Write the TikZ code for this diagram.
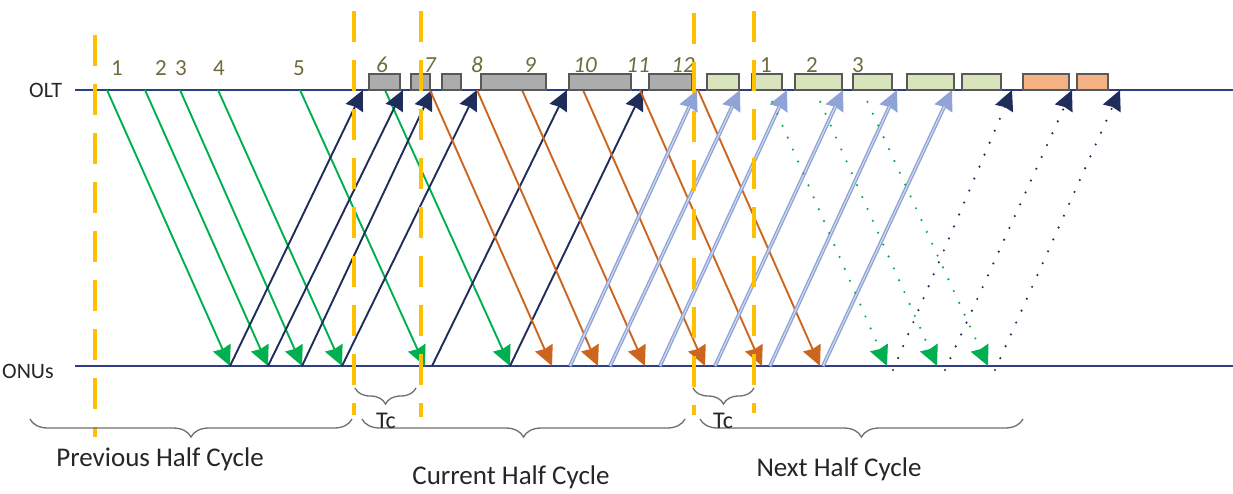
\documentclass[tikz,border=0pt]{standalone}
\usepackage{fontspec}
\setmainfont{Carlito}
\usetikzlibrary{arrows.meta,decorations.pathreplacing}
\definecolor{linenavy}{RGB}{47,62,128}
\definecolor{navy}{RGB}{31,45,90}
\definecolor{grn}{RGB}{0,176,80}
\definecolor{org}{RGB}{204,102,30}
\definecolor{lblue}{RGB}{143,163,214}
\definecolor{gold}{RGB}{255,192,0}
\definecolor{olive}{RGB}{110,108,60}
\definecolor{grayfill}{RGB}{172,172,172}
\definecolor{greenfill}{RGB}{216,228,188}
\definecolor{orangefill}{RGB}{244,177,131}
\definecolor{boxborder}{RGB}{89,89,89}
\definecolor{bracegray}{RGB}{110,110,110}
\begin{document}
\begin{tikzpicture}[x=1pt,y=-1pt,
 axisline/.style={draw=linenavy,line width=2pt},
 tipS/.style={-{Stealth[inset=1.5pt,length=20pt,width=19pt]}},
 grnarrow/.style={tipS,draw=grn,line width=1.9pt},
 navyarrow/.style={tipS,draw=navy,line width=1.9pt},
 orgarrow/.style={tipS,draw=org,line width=1.9pt},
 lbarrow/.style={tipS,draw=lblue,line width=3.8pt},
 lbcore/.style={draw=lblue!40,line width=1.1pt,shorten >=18pt},
 grndot/.style={tipS,draw=grn,line width=2.4pt,line cap=round,dash pattern=on 0pt off 13pt},
 navydot/.style={tipS,draw=navy,line width=2.4pt,line cap=round,dash pattern=on 0pt off 13pt},
 goldline/.style={draw=gold,line width=3.6pt,dash pattern=on 31pt off 18pt},
 graybox/.style={draw=boxborder,line width=1.3pt,fill=grayfill},
 greenbox/.style={draw=boxborder,line width=1.3pt,fill=greenfill},
 orangebox/.style={draw=boxborder,line width=1.3pt,fill=orangefill},
 halfbrace/.style={draw=bracegray,line width=1.3pt,decorate,decoration={brace,amplitude=18pt,mirror}},
 tcbrace/.style={draw=bracegray,line width=1.3pt,decorate,decoration={brace,amplitude=16pt,mirror}},
 lbl/.style={font=\fontsize{22}{26}\selectfont,text=black!85,inner sep=0pt,anchor=base west},
 biglbl/.style={font=\fontsize{27}{32}\selectfont,text=black!85,inner sep=0pt,anchor=base},
 num/.style={font=\fontsize{23}{27}\selectfont,text=olive,inner sep=0pt,anchor=base},
 inum/.style={num,font=\fontsize{23}{27}\selectfont\itshape},
]
\useasboundingbox (0,0) rectangle (1233,493);

% axes
\coordinate (oltL) at (75,90);
\coordinate (oltR) at (1233,90);
\coordinate (onuL) at (75,366);
\coordinate (onuR) at (1233,366);
\draw[axisline] (oltL) -- (oltR);
\draw[axisline] (onuL) -- (onuR);
\node[lbl] (olt) at (29,97) {OLT};
\node[lbl] (onus) at (2,378) {ONUs};

% green solid: OLT -> ONU
\foreach \a/\b [count=\i] in {107/230,145/268,180/302,218/342,300/425,385/510}{
  \coordinate (gs\i) at (\a,90); \coordinate (ge\i) at (\b,366);
  \draw[grnarrow] (gs\i) -- (ge\i);}
% navy solid: ONU -> OLT
\foreach \a/\b [count=\i] in {230/363,268/403,302/432,342/477,432/567,510/643}{
  \coordinate (ns\i) at (\a,366); \coordinate (ne\i) at (\b,90);
  \draw[navyarrow] (ns\i) -- (ne\i);}
% orange: OLT -> ONU
\foreach \a/\b [count=\i] in {430/552,477/598,522/645,583/705,640/762,698/820}{
  \coordinate (os\i) at (\a,90); \coordinate (oe\i) at (\b,366);
  \draw[orgarrow] (os\i) -- (oe\i);}
% light blue: ONU -> OLT
\foreach \a/\b [count=\i] in {570/697,610/740,660/787,715/843,770/897,823/952}{
  \coordinate (ls\i) at (\a,366); \coordinate (le\i) at (\b,90);
  \draw[lbarrow] (ls\i) -- (le\i);
  \draw[lbcore] (ls\i) -- (le\i);}
% green dotted: OLT -> ONU
\foreach \a/\b [count=\i] in {767/887,815/937,862/988}{
  \coordinate (ds\i) at (\a,90); \coordinate (de\i) at (\b,366);
  \draw[grndot] (ds\i) -- (de\i);}
% navy dotted: ONU -> OLT
\foreach \a/\b [count=\i] in {893/1012,945/1072,995/1120}{
  \coordinate (vs\i) at (\a,370); \coordinate (ve\i) at (\b,90);
  \draw[navydot] (vs\i) -- (ve\i);}

% boxes on OLT line
\foreach \a/\b in {369/400,411/430,442/461,481/546,569/631,649/692}
  \draw[graybox] (\a,74) rectangle (\b,90);
\foreach \a/\b in {707/739,752/782,795/842,853/892,907/954,962/1001}
  \draw[greenbox] (\a,74) rectangle (\b,90);
\foreach \a/\b in {1023/1069,1077/1108}
  \draw[orangebox] (\a,74) rectangle (\b,90);

% numbers
\foreach \x/\t [count=\i] in {117/1,161/2,181/3,219/4,299/5}
  \node[num] (n\i) at (\x,75) {\t};
\foreach \x/\t [count=\i] in {382/6,430/7,477/8,530/9,585/10,638/11,683/12}
  \node[inum] (m\i) at (\x,72) {\t};
\foreach \x/\t [count=\i] in {766/1,812/2,858/3}
  \node[num] (k\i) at (\x,72) {\t};

% gold dashed lines
\foreach \x/\t/\b [count=\i] in {95/35/437,354/11/415,421/11/417,694/13/415,754/11/413}{
  \coordinate (dt\i) at (\x,\t); \coordinate (db\i) at (\x,\b);
  \draw[goldline] (dt\i) -- (db\i);}

% braces
\coordinate (pb1) at (30,419); \coordinate (pb2) at (352,419);
\draw[halfbrace] (pb1) -- (pb2);
\coordinate (cb1) at (362,419); \coordinate (cb2) at (685,419);
\draw[halfbrace] (cb1) -- (cb2);
\coordinate (xb1) at (700,419); \coordinate (xb2) at (1023,419);
\draw[halfbrace] (xb1) -- (xb2);
\coordinate (t1a) at (355,388); \coordinate (t1b) at (416,388);
\draw[tcbrace] (t1a) -- (t1b);
\coordinate (t2a) at (693,388); \coordinate (t2b) at (754,388);
\draw[tcbrace] (t2a) -- (t2b);

\node[num,text=black!85,font=\fontsize{24}{28}\selectfont] (tc1) at (386,428) {Tc};
\node[num,text=black!85,font=\fontsize{24}{28}\selectfont] (tc2) at (723,428) {Tc};
\node[biglbl] (prev) at (160,466) {Previous Half Cycle};
\node[biglbl] (curr) at (511,484) {Current Half Cycle};
\node[biglbl] (next) at (839,476) {Next Half Cycle};
\end{tikzpicture}
\end{document}
